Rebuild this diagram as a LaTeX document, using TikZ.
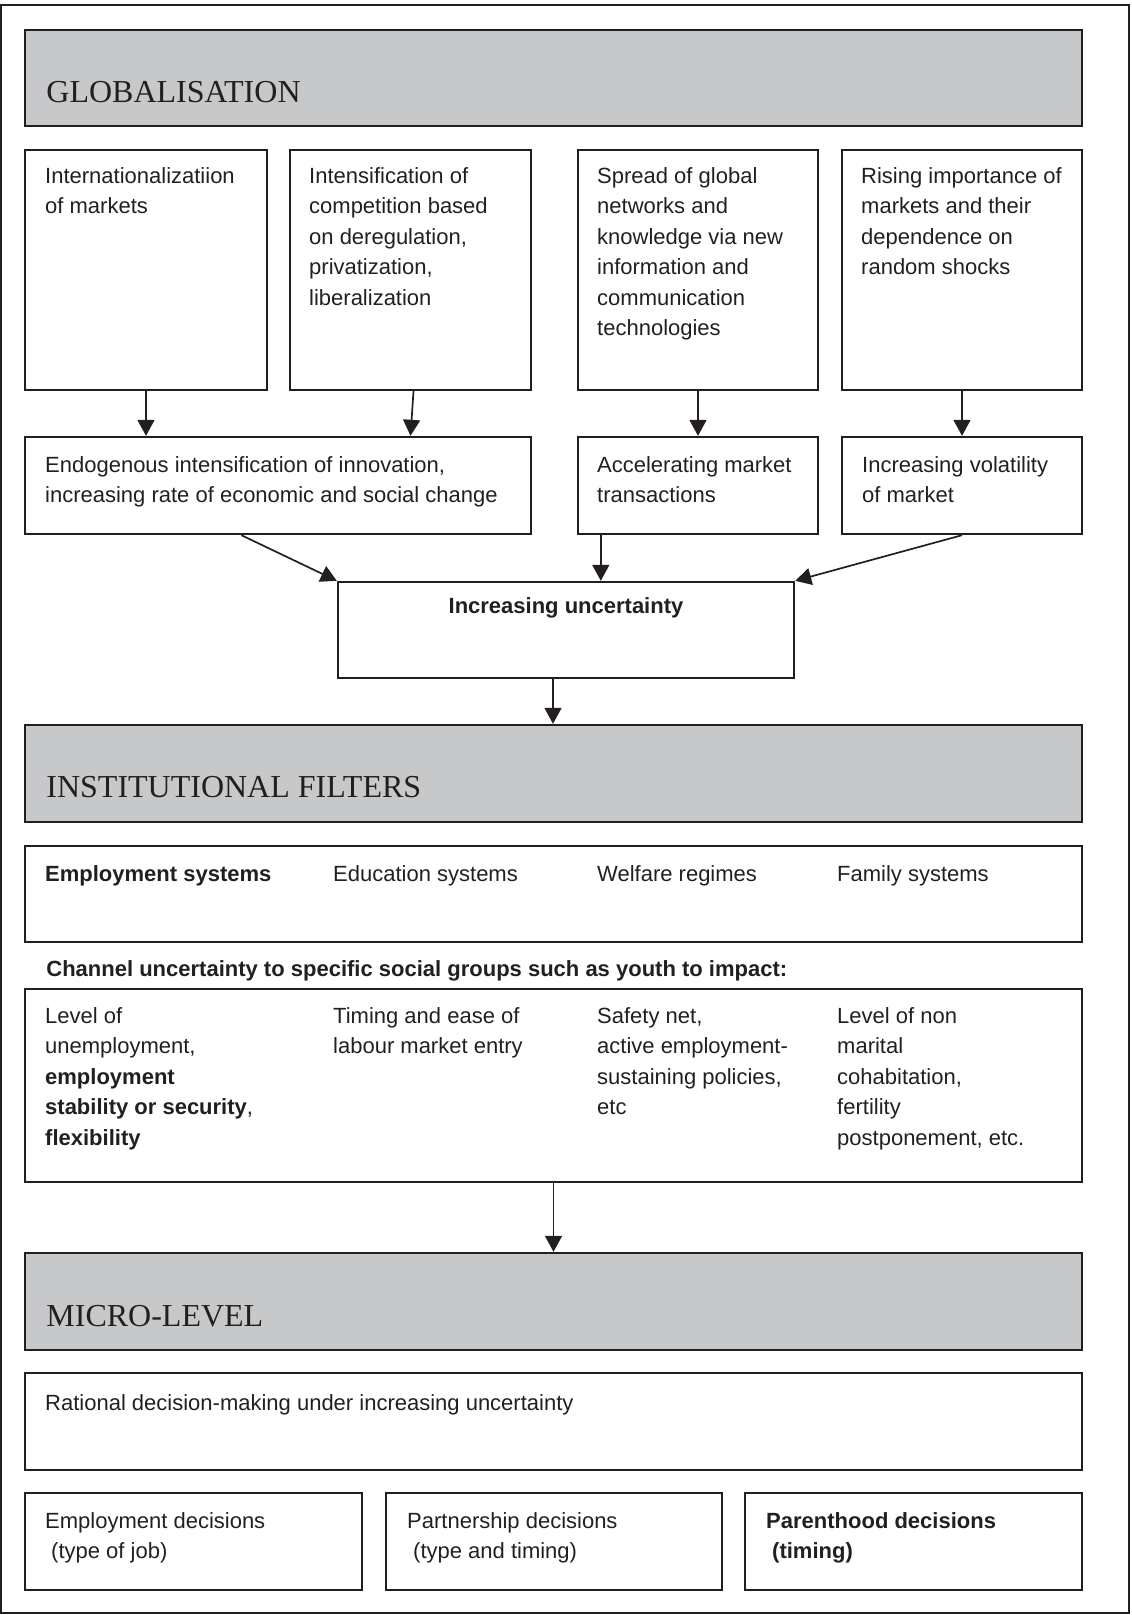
\documentclass[tikz,border=0pt]{standalone}
\usepackage{fontspec}
\setmainfont{Liberation Sans}
\newfontfamily\titlefont{Liberation Serif}
\usetikzlibrary{fit,arrows.meta,calc}
\definecolor{ink}{HTML}{231F20}
\definecolor{bandgray}{HTML}{C7C8CA}
\begin{document}
\begin{tikzpicture}[x=0.5pt,y=-0.5pt,
  panel/.style={draw=ink, line width=1.2pt, inner sep=0pt},
  band/.style={panel, fill=bandgray},
  txt/.style={anchor=north west, inner sep=0pt, align=left,
              font=\fontsize{11}{15.25}\selectfont, text=ink},
  boldtxt/.style={txt, font=\fontsize{11}{15.25}\selectfont\bfseries},
  headline/.style={anchor=west, inner sep=0pt,
              font=\titlefont\fontsize{16}{19}\selectfont, text=ink},
  flow/.style={draw=ink, line width=0.85pt, -{Triangle[length=8pt,width=8.5pt]}}]
\useasboundingbox (0,0) rectangle (1131,1615);

% outer frame
\node[panel, line width=1pt, fit={(1,5) (1129,1613)}] (frame) {};

% ---------- globalisation ----------
\node[band, fit={(25,30) (1082,126)}] (g1) {};
\node[headline] (g1t) at (46,92) {GLOBALISATION};

\node[panel, fit={(25,150) (267,390)}] (b1) {};
\node[panel, fit={(290,150) (531,390)}] (b2) {};
\node[panel, fit={(578,150) (818,390)}] (b3) {};
\node[panel, fit={(842,150) (1082,390)}] (b4) {};
\node[txt] (b1t) at ([shift={(21,18)}]b1.north west) {Internationalizatiion\\of markets};
\node[txt] (b2t) at ([shift={(20,18)}]b2.north west) {Intensification of\\competition based\\on deregulation,\\privatization,\\liberalization};
\node[txt] (b3t) at ([shift={(20,18)}]b3.north west) {Spread of global\\networks and\\knowledge via new\\information and\\communication\\technologies};
\node[txt] (b4t) at ([shift={(20,18)}]b4.north west) {Rising importance of\\markets and their\\dependence on\\random shocks};

\node[panel, fit={(25,437) (531,534)}] (ra) {};
\node[panel, fit={(578,437) (818,534)}] (rb) {};
\node[panel, fit={(842,437) (1082,534)}] (rc) {};
\node[txt] (rat) at ([shift={(21,20)}]ra.north west) {Endogenous intensification of innovation,\\increasing rate of economic and social change};
\node[txt] (rbt) at ([shift={(20,20)}]rb.north west) {Accelerating market\\transactions};
\node[txt] (rct) at ([shift={(21,20)}]rc.north west) {Increasing volatility\\of market};

\node[panel, fit={(338,582) (794,678)}] (unc) {};
\node[boldtxt, anchor=north] (unct) at ([shift={(0,16)}]unc.north) {Increasing uncertainty};

\draw[flow] (b1.south) -- (b1.south |- ra.north);
\draw[flow] ([xshift=1.5pt]b2.south) -- (b2.south |- ra.north);
\draw[flow] (b3.south) -- (b3.south |- rb.north);
\draw[flow] (b4.south) -- (b4.south |- rc.north);
\draw[flow] ($(ra.south west)!0.428!(ra.south east)$) -- (unc.north west);
\draw[flow] ([xshift=12pt]rb.south west) -- ([xshift=12pt]rb.south west |- unc.north);
\draw[flow] (rc.south) -- (unc.north east);

% ---------- institutional filters ----------
\node[band, fit={(25,725) (1082,822)}] (g2) {};
\node[headline] (g2t) at (46,787) {INSTITUTIONAL FILTERS};
\draw[flow] ([xshift=-6.5pt]unc.south) -- ([xshift=-6.5pt]unc.south |- g2.north);

\node[panel, fit={(25,846) (1082,942)}] (fil) {};
\node[boldtxt] (f1) at ([shift={(21,20)}]fil.north west) {Employment systems};
\node[txt] (f2) at ([shift={(309,20)}]fil.north west) {Education systems};
\node[txt] (f3) at ([shift={(573,20)}]fil.north west) {Welfare regimes};
\node[txt] (f4) at ([shift={(813,20)}]fil.north west) {Family systems};

\node[boldtxt] (chan) at (46,960) {Channel uncertainty to specific social groups such as youth to impact:};

\node[panel, fit={(25,989) (1082,1182)}] (imp) {};
\node[txt] (i1) at ([shift={(21,19)}]imp.north west) {Level of\\unemployment,\\\textbf{employment}\\\textbf{stability or security},\\\textbf{flexibility}};
\node[txt] (i2) at ([shift={(309,19)}]imp.north west) {Timing and ease of\\labour market entry};
\node[txt] (i3) at ([shift={(573,19)}]imp.north west) {Safety net,\\active employment-\\sustaining policies,\\etc};
\node[txt] (i4) at ([shift={(813,19)}]imp.north west) {Level of non\\marital\\cohabitation,\\fertility\\postponement, etc.};

% ---------- micro-level ----------
\node[band, fit={(25,1253) (1082,1350)}] (g3) {};
\node[headline] (g3t) at (46,1316) {MICRO-LEVEL};
\draw[flow] (imp.south) -- (imp.south |- g3.north);

\node[panel, fit={(25,1373) (1082,1470)}] (rat) {};
\node[txt] (ratt) at ([shift={(21,22)}]rat.north west) {Rational decision-making under increasing uncertainty};

\node[panel, fit={(25,1493) (362,1590)}] (d1) {};
\node[panel, fit={(386,1493) (722,1590)}] (d2) {};
\node[panel, fit={(745,1493) (1082,1590)}] (d3) {};
\node[txt] (d1t) at ([shift={(21,20)}]d1.north west) {Employment decisions\\\hspace*{3pt}(type of job)};
\node[txt] (d2t) at ([shift={(22,20)}]d2.north west) {Partnership decisions\\\hspace*{3pt}(type and timing)};
\node[boldtxt] (d3t) at ([shift={(22,20)}]d3.north west) {Parenthood decisions\\\hspace*{3pt}(timing)};
\end{tikzpicture}
\end{document}
